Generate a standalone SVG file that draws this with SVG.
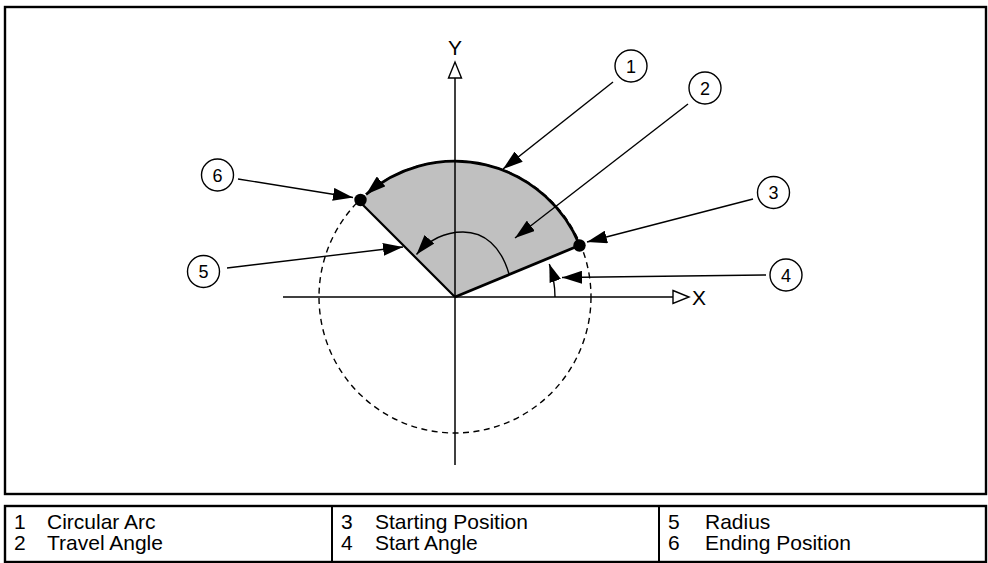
<svg xmlns="http://www.w3.org/2000/svg" width="988" height="563" viewBox="0 0 988 563">
<style>
text{font-family:"Liberation Sans",Arial,Helvetica,sans-serif;fill:#000}
.frame{fill:none;stroke:#000;stroke-width:2.4}
.axis{fill:none;stroke:#000;stroke-width:1.5}
.lead{fill:none;stroke:#000;stroke-width:1.4}
.callout circle{fill:#fff;stroke:#000;stroke-width:1.4}
.callout text{font-size:18px;text-anchor:middle}
.leg{font-size:21px}
.lab{font-size:21px}
</style>
<defs>
<marker id="ah" viewBox="0 0 20 13" markerWidth="20" markerHeight="13" refX="20" refY="6.5" orient="auto" markerUnits="userSpaceOnUse">
<path d="M0,0 L20,6.5 L0,13 Z" fill="#000"/>
</marker>
<marker id="ahs" viewBox="0 0 18 12" markerWidth="18" markerHeight="12" refX="18" refY="6" orient="auto" markerUnits="userSpaceOnUse">
<path d="M0,0 L18,6 L0,12 Z" fill="#000"/>
</marker>
</defs>
<rect class="frame" x="5" y="7" width="981" height="487"/>
<g id="drawing">
<circle cx="455" cy="297" r="136" fill="none" stroke="#000" stroke-width="1.4" stroke-dasharray="6,4.5"/>
<path d="M455,297 L579.7,245.3 A135,135 0 0 0 359.5,201.5 Z" fill="#c0c0c0" stroke="none"/>
<g id="axes">
<line class="axis" x1="283" y1="297" x2="673" y2="297"/>
<path d="M673,290.5 L689,297 L673,303.5 Z" fill="#fff" stroke="#000" stroke-width="1.4"/>
<line class="axis" x1="455" y1="465" x2="455" y2="78"/>
<path d="M448.5,78 L455,62 L461.5,78 Z" fill="#fff" stroke="#000" stroke-width="1.4"/>
<text class="lab" x="692" y="305">X</text>
<text class="lab" x="455" y="55" text-anchor="middle">Y</text>
</g>
<line x1="455" y1="297" x2="579.7" y2="245.3" stroke="#000" stroke-width="2.8"/>
<line x1="455" y1="297" x2="359.5" y2="201.5" stroke="#000" stroke-width="2.2"/>
<path d="M579.7,245.3 A135,135 0 0 0 366,194.5" fill="none" stroke="#000" stroke-width="2.8" marker-end="url(#ah)"/>
<path d="M509,274 C501,246 484,232 463,232 C444,232 428,241 416.5,254.5" fill="none" stroke="#000" stroke-width="1.4" marker-end="url(#ah)"/>
<path d="M555,297 A100,100 0 0 0 549.3,264" fill="none" stroke="#000" stroke-width="1.4" marker-end="url(#ahs)"/>
<circle cx="579.5" cy="245.5" r="6.2" fill="#000"/>
<circle cx="360.5" cy="200" r="6.2" fill="#000"/>
</g>
<g id="connectors">
<line class="lead" x1="613" y1="82" x2="503" y2="169" marker-end="url(#ah)"/>
<line class="lead" x1="688" y1="104" x2="515" y2="238" marker-end="url(#ah)"/>
<line class="lead" x1="753" y1="199" x2="587" y2="242" marker-end="url(#ah)"/>
<line class="lead" x1="766" y1="275" x2="562" y2="277.5" marker-end="url(#ah)"/>
<line class="lead" x1="227" y1="268" x2="403" y2="247" marker-end="url(#ah)"/>
<line class="lead" x1="238" y1="179" x2="353" y2="197.5" marker-end="url(#ah)"/>
</g>
<g id="c1" class="callout"><circle cx="631" cy="66" r="16"/><text x="631" y="72.5">1</text></g>
<g id="c2" class="callout"><circle cx="705" cy="88" r="16"/><text x="705" y="94.5">2</text></g>
<g id="c3" class="callout"><circle cx="773.5" cy="192.5" r="16"/><text x="773.5" y="199">3</text></g>
<g id="c4" class="callout"><circle cx="786" cy="275" r="16"/><text x="786" y="281.5">4</text></g>
<g id="c5" class="callout"><circle cx="203.5" cy="271.5" r="16"/><text x="203.5" y="278">5</text></g>
<g id="c6" class="callout"><circle cx="217.5" cy="175" r="16"/><text x="217.5" y="181.5">6</text></g>
<g id="legend">
<rect class="frame" x="5" y="506" width="981" height="56"/>
<line x1="332" y1="506" x2="332" y2="562" stroke="#000" stroke-width="2"/>
<line x1="659" y1="506" x2="659" y2="562" stroke="#000" stroke-width="2"/>
<text class="leg" x="14" y="529">1</text><text class="leg" x="47" y="529">Circular Arc</text>
<text class="leg" x="14" y="550">2</text><text class="leg" x="47" y="550">Travel Angle</text>
<text class="leg" x="341" y="529">3</text><text class="leg" x="375" y="529">Starting Position</text>
<text class="leg" x="341" y="550">4</text><text class="leg" x="375" y="550">Start Angle</text>
<text class="leg" x="668" y="529">5</text><text class="leg" x="705" y="529">Radius</text>
<text class="leg" x="668" y="550">6</text><text class="leg" x="705" y="550">Ending Position</text>
</g>
</svg>
